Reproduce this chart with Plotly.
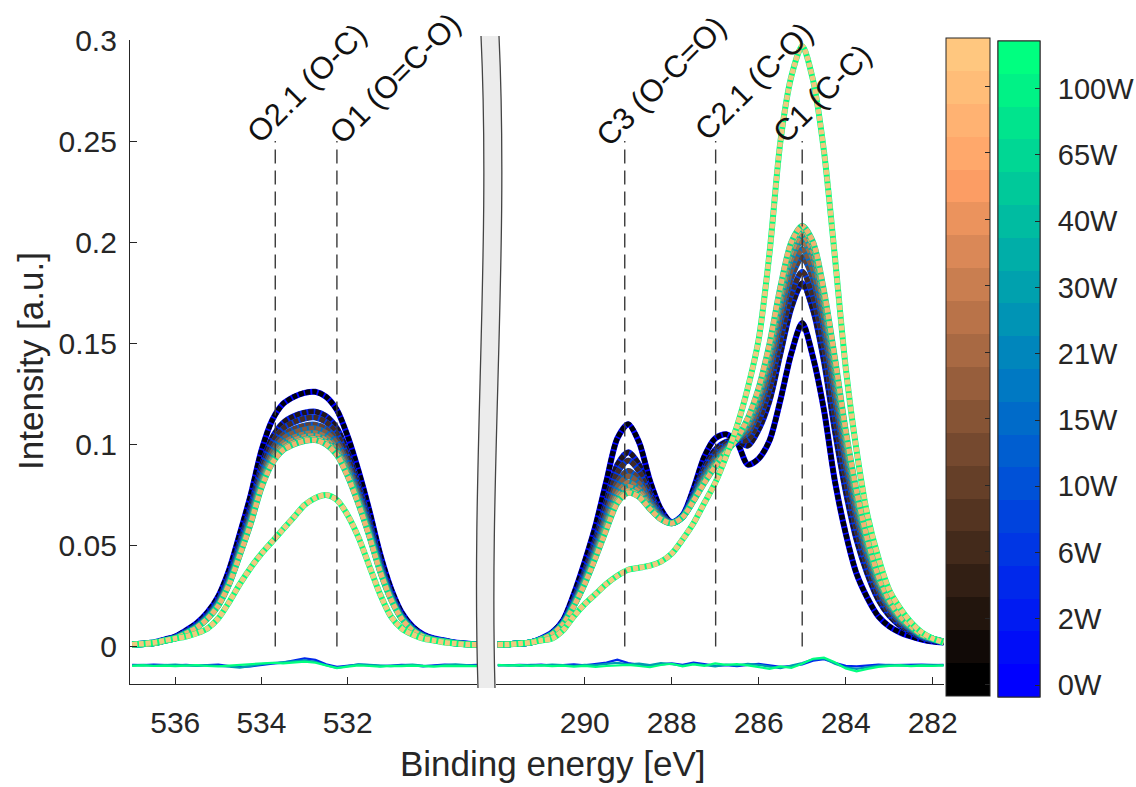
import plotly.graph_objects as go

# ---------------- data ----------------
power_labels = ["0W", "2W", "6W", "10W", "15W", "21W", "30W", "40W", "65W", "100W"]

energy_O = [537.0, 536.75, 536.5, 536.25, 536.0, 535.75, 535.5, 535.25, 535.0, 534.75,
            534.5, 534.25, 534.0, 533.75, 533.5, 533.25, 533.0, 532.75, 532.5, 532.25,
            532.0, 531.75, 531.5, 531.25, 531.0, 530.75, 530.5, 530.25, 530.0, 529.75,
            529.5, 529.25, 529.0]

energy_C = [292.0, 291.75, 291.5, 291.25, 291.0, 290.75, 290.5, 290.25, 290.0, 289.75,
            289.5, 289.25, 289.0, 288.75, 288.5, 288.25, 288.0, 287.75, 287.5, 287.25,
            287.0, 286.75, 286.5, 286.25, 286.0, 285.75, 285.5, 285.25, 285.0, 284.75,
            284.5, 284.25, 284.0, 283.75, 283.5, 283.25, 283.0, 282.75, 282.5, 282.25,
            282.0, 281.75]

O_0W = [0.001, 0.0015, 0.002, 0.0035, 0.005, 0.008, 0.0116, 0.017, 0.025, 0.038, 0.056, 0.075, 0.097, 0.112, 0.120, 0.1235, 0.1255, 0.126, 0.1235, 0.117, 0.104, 0.087, 0.0675, 0.046, 0.029, 0.017, 0.010, 0.006, 0.004, 0.003, 0.002, 0.0015, 0.001]
O_2W = [0.001, 0.0014, 0.0018, 0.0032, 0.0046, 0.0074, 0.0107, 0.0157, 0.0231, 0.0350, 0.0516, 0.0692, 0.0894, 0.1033, 0.1106, 0.1139, 0.1157, 0.1162, 0.1139, 0.1079, 0.0959, 0.0802, 0.0622, 0.0424, 0.0267, 0.0157, 0.0092, 0.0055, 0.0037, 0.0028, 0.0018, 0.0014, 0.0009]
O_6W = [0.001, 0.0013, 0.0018, 0.0031, 0.0045, 0.0072, 0.0104, 0.0153, 0.0225, 0.0342, 0.0503, 0.0674, 0.0872, 0.1007, 0.1079, 0.1110, 0.1128, 0.1133, 0.1110, 0.1052, 0.0935, 0.0782, 0.0607, 0.0414, 0.0261, 0.0153, 0.0090, 0.0054, 0.0036, 0.0027, 0.0018, 0.0013, 0.0009]
O_10W = [0.001, 0.0013, 0.0017, 0.0030, 0.0044, 0.0070, 0.0101, 0.0148, 0.0218, 0.0331, 0.0488, 0.0653, 0.0845, 0.0976, 0.1045, 0.1076, 0.1093, 0.1097, 0.1076, 0.1019, 0.0906, 0.0758, 0.0588, 0.0401, 0.0253, 0.0148, 0.0087, 0.0052, 0.0035, 0.0026, 0.0017, 0.0013, 0.0009]
O_15W = [0.001, 0.0013, 0.0017, 0.0030, 0.0043, 0.0068, 0.0099, 0.0146, 0.0214, 0.0325, 0.0479, 0.0642, 0.0830, 0.0959, 0.1027, 0.1057, 0.1074, 0.1079, 0.1057, 0.1002, 0.0890, 0.0745, 0.0578, 0.0394, 0.0248, 0.0146, 0.0086, 0.0051, 0.0034, 0.0026, 0.0017, 0.0013, 0.0009]
O_21W = [0.001, 0.0013, 0.0017, 0.0029, 0.0042, 0.0067, 0.0097, 0.0142, 0.0210, 0.0318, 0.0469, 0.0629, 0.0813, 0.0939, 0.1006, 0.1035, 0.1052, 0.1056, 0.1035, 0.0980, 0.0872, 0.0729, 0.0566, 0.0385, 0.0243, 0.0142, 0.0084, 0.0050, 0.0034, 0.0025, 0.0017, 0.0013, 0.0008]
O_30W = [0.001, 0.0012, 0.0017, 0.0029, 0.0041, 0.0066, 0.0096, 0.0141, 0.0207, 0.0314, 0.0463, 0.0620, 0.0802, 0.0926, 0.0992, 0.1021, 0.1038, 0.1042, 0.1021, 0.0968, 0.0860, 0.0719, 0.0558, 0.0380, 0.0240, 0.0141, 0.0083, 0.0050, 0.0033, 0.0025, 0.0017, 0.0012, 0.0008]
O_40W = [0.001, 0.0012, 0.0016, 0.0029, 0.0041, 0.0065, 0.0095, 0.0139, 0.0204, 0.0310, 0.0457, 0.0612, 0.0792, 0.0914, 0.0979, 0.1008, 0.1024, 0.1028, 0.1008, 0.0955, 0.0849, 0.0710, 0.0551, 0.0375, 0.0237, 0.0139, 0.0082, 0.0049, 0.0033, 0.0024, 0.0016, 0.0012, 0.0008]
O_65W = [0.001, 0.0012, 0.0016, 0.0028, 0.0040, 0.0065, 0.0094, 0.0138, 0.0203, 0.0308, 0.0454, 0.0608, 0.0786, 0.0907, 0.0972, 0.1000, 0.1017, 0.1021, 0.1000, 0.0948, 0.0842, 0.0705, 0.0547, 0.0373, 0.0235, 0.0138, 0.0081, 0.0049, 0.0032, 0.0024, 0.0016, 0.0012, 0.0008]
O_100W = [0.001, 0.0015, 0.002, 0.003, 0.004, 0.005, 0.0066, 0.009, 0.014, 0.022, 0.031, 0.039, 0.046, 0.052, 0.058, 0.064, 0.070, 0.0735, 0.075, 0.0725, 0.065, 0.054, 0.040, 0.026, 0.015, 0.009, 0.006, 0.004, 0.003, 0.002, 0.0015, 0.001, 0.001]

C_0W = [0.001, 0.0012, 0.0015, 0.002, 0.004, 0.007, 0.013, 0.026, 0.042, 0.060, 0.082, 0.103, 0.110, 0.101, 0.082, 0.068, 0.0615, 0.065, 0.078, 0.094, 0.103, 0.105, 0.101, 0.090, 0.093, 0.102, 0.122, 0.145, 0.160, 0.143, 0.117, 0.082, 0.056, 0.036, 0.024, 0.015, 0.010, 0.007, 0.005, 0.0035, 0.0025, 0.002]
C_2W = [0.001, 0.0012, 0.0015, 0.002, 0.0038, 0.0066, 0.0122, 0.0235, 0.0375, 0.0534, 0.0722, 0.0899, 0.0961, 0.0899, 0.0763, 0.0659, 0.0613, 0.0646, 0.0755, 0.0887, 0.0973, 0.1013, 0.1018, 0.0994, 0.1074, 0.1217, 0.1450, 0.1676, 0.1797, 0.1664, 0.1412, 0.1070, 0.0769, 0.0528, 0.0359, 0.0232, 0.0153, 0.0103, 0.0071, 0.0045, 0.0031, 0.0022]
C_6W = [0.001, 0.0012, 0.0015, 0.002, 0.0037, 0.0065, 0.0119, 0.0228, 0.0362, 0.0515, 0.0693, 0.0860, 0.0920, 0.0867, 0.0746, 0.0653, 0.0612, 0.0645, 0.0748, 0.0871, 0.0956, 0.1002, 0.1021, 0.1022, 0.1116, 0.1274, 0.1517, 0.1742, 0.1854, 0.1732, 0.1483, 0.1143, 0.0830, 0.0577, 0.0394, 0.0256, 0.0169, 0.0112, 0.0077, 0.0048, 0.0033, 0.0023]
C_10W = [0.001, 0.0012, 0.0015, 0.002, 0.0037, 0.0063, 0.0116, 0.0219, 0.0345, 0.0491, 0.0657, 0.0812, 0.0869, 0.0826, 0.0725, 0.0646, 0.0612, 0.0643, 0.0739, 0.0852, 0.0935, 0.0989, 0.1024, 0.1056, 0.1168, 0.1346, 0.1601, 0.1824, 0.1926, 0.1818, 0.1571, 0.1235, 0.0907, 0.0639, 0.0437, 0.0286, 0.0188, 0.0124, 0.0084, 0.0052, 0.0035, 0.0023]
C_15W = [0.001, 0.0012, 0.0015, 0.002, 0.0036, 0.0062, 0.0115, 0.0214, 0.0336, 0.0478, 0.0638, 0.0787, 0.0842, 0.0805, 0.0714, 0.0642, 0.0611, 0.0642, 0.0734, 0.0841, 0.0924, 0.0982, 0.1025, 0.1075, 0.1196, 0.1385, 0.1646, 0.1868, 0.1965, 0.1863, 0.1618, 0.1284, 0.0948, 0.0672, 0.0460, 0.0302, 0.0199, 0.0131, 0.0088, 0.0054, 0.0036, 0.0024]
C_21W = [0.001, 0.0012, 0.0015, 0.002, 0.0036, 0.0061, 0.0113, 0.0209, 0.0326, 0.0464, 0.0616, 0.0758, 0.0811, 0.0780, 0.0701, 0.0637, 0.0611, 0.0641, 0.0729, 0.0829, 0.0911, 0.0973, 0.1027, 0.1096, 0.1228, 0.1428, 0.1696, 0.1918, 0.2008, 0.1915, 0.1672, 0.1339, 0.0994, 0.0709, 0.0487, 0.0320, 0.0211, 0.0138, 0.0093, 0.0056, 0.0038, 0.0024]
C_30W = [0.001, 0.0012, 0.0015, 0.002, 0.0035, 0.0061, 0.0112, 0.0205, 0.0320, 0.0454, 0.0602, 0.0739, 0.0791, 0.0764, 0.0693, 0.0634, 0.0610, 0.0641, 0.0725, 0.0822, 0.0903, 0.0968, 0.1028, 0.1109, 0.1249, 0.1457, 0.1730, 0.1951, 0.2037, 0.1949, 0.1707, 0.1375, 0.1024, 0.0733, 0.0504, 0.0332, 0.0218, 0.0143, 0.0096, 0.0058, 0.0039, 0.0025]
C_40W = [0.001, 0.0012, 0.0015, 0.002, 0.0035, 0.0060, 0.0111, 0.0202, 0.0313, 0.0445, 0.0587, 0.0720, 0.0770, 0.0748, 0.0684, 0.0631, 0.0610, 0.0640, 0.0722, 0.0814, 0.0894, 0.0963, 0.1029, 0.1123, 0.1270, 0.1486, 0.1763, 0.1984, 0.2066, 0.1983, 0.1742, 0.1412, 0.1055, 0.0758, 0.0521, 0.0344, 0.0226, 0.0148, 0.0099, 0.0059, 0.0040, 0.0025]
C_65W = [0.001, 0.0012, 0.0015, 0.002, 0.0035, 0.006, 0.011, 0.020, 0.031, 0.044, 0.058, 0.071, 0.076, 0.074, 0.068, 0.063, 0.061, 0.064, 0.072, 0.081, 0.089, 0.096, 0.103, 0.113, 0.128, 0.150, 0.178, 0.200, 0.208, 0.200, 0.176, 0.143, 0.107, 0.077, 0.053, 0.035, 0.023, 0.015, 0.010, 0.006, 0.004, 0.0025]
C_100W = [0.001, 0.001, 0.0015, 0.002, 0.003, 0.004, 0.008, 0.015, 0.021, 0.026, 0.031, 0.035, 0.038, 0.039, 0.040, 0.042, 0.046, 0.053, 0.061, 0.071, 0.081, 0.094, 0.109, 0.128, 0.152, 0.195, 0.250, 0.282, 0.297, 0.280, 0.245, 0.193, 0.138, 0.097, 0.065, 0.044, 0.028, 0.019, 0.012, 0.007, 0.004, 0.002]

# residuals (fit - data), plotted offset below zero
res_O_0W = [-0.0090, -0.0092, -0.0089, -0.0091, -0.0093, -0.0090, -0.0094, -0.0091, -0.0089, -0.0096, -0.0101, -0.0098, -0.0090, -0.0084, -0.0079, -0.0070, -0.0058, -0.0066, -0.0088, -0.0100, -0.0093, -0.0089, -0.0092, -0.0097, -0.0094, -0.0090, -0.0092, -0.0098, -0.0093, -0.0089, -0.0091, -0.0093, -0.0090]
res_O_40W = [-0.0093, -0.0090, -0.0094, -0.0092, -0.0089, -0.0093, -0.0096, -0.0092, -0.0094, -0.0099, -0.0104, -0.0095, -0.0087, -0.0082, -0.0077, -0.0072, -0.0068, -0.0075, -0.0092, -0.0105, -0.0096, -0.0088, -0.0090, -0.0094, -0.0097, -0.0093, -0.0089, -0.0094, -0.0096, -0.0091, -0.0088, -0.0092, -0.0094]
res_O_100W = [-0.0095, -0.0093, -0.0096, -0.0094, -0.0097, -0.0095, -0.0092, -0.0096, -0.0098, -0.0094, -0.0091, -0.0088, -0.0084, -0.0080, -0.0083, -0.0079, -0.0074, -0.0080, -0.0094, -0.0106, -0.0099, -0.0093, -0.0096, -0.0099, -0.0095, -0.0097, -0.0094, -0.0097, -0.0099, -0.0095, -0.0096, -0.0094, -0.0097]
res_C_0W = [-0.0091, -0.0093, -0.0090, -0.0092, -0.0089, -0.0094, -0.0091, -0.0088, -0.0093, -0.0086, -0.0079, -0.0065, -0.0082, -0.0090, -0.0094, -0.0088, -0.0083, -0.0090, -0.0079, -0.0087, -0.0095, -0.0092, -0.0097, -0.0090, -0.0086, -0.0093, -0.0100, -0.0096, -0.0088, -0.0070, -0.0062, -0.0080, -0.0095, -0.0098, -0.0093, -0.0089, -0.0092, -0.0090, -0.0091, -0.0089, -0.0092, -0.0090]
res_C_40W = [-0.0094, -0.0091, -0.0095, -0.0090, -0.0093, -0.0089, -0.0092, -0.0095, -0.0090, -0.0092, -0.0085, -0.0080, -0.0088, -0.0084, -0.0091, -0.0082, -0.0087, -0.0094, -0.0085, -0.0092, -0.0098, -0.0089, -0.0093, -0.0086, -0.0090, -0.0099, -0.0107, -0.0094, -0.0081, -0.0063, -0.0058, -0.0085, -0.0103, -0.0110, -0.0101, -0.0094, -0.0090, -0.0093, -0.0095, -0.0092, -0.0090, -0.0093]
res_C_100W = [-0.0090, -0.0094, -0.0092, -0.0096, -0.0093, -0.0097, -0.0094, -0.0099, -0.0095, -0.0100, -0.0096, -0.0093, -0.0090, -0.0096, -0.0101, -0.0091, -0.0085, -0.0098, -0.0088, -0.0095, -0.0083, -0.0090, -0.0087, -0.0093, -0.0103, -0.0110, -0.0098, -0.0105, -0.0085, -0.0060, -0.0055, -0.0078, -0.0108, -0.0122, -0.0110, -0.0100, -0.0096, -0.0093, -0.0097, -0.0094, -0.0096, -0.0093]

O_series = [O_0W, O_2W, O_6W, O_10W, O_15W, O_21W, O_30W, O_40W, O_65W, O_100W]
C_series = [C_0W, C_2W, C_6W, C_10W, C_15W, C_21W, C_30W, C_40W, C_65W, C_100W]
res_O = [res_O_0W, res_O_40W, res_O_100W]
res_C = [res_C_0W, res_C_40W, res_C_100W]
res_levels = [0.15, 0.6, 1.0]

O_peak_pos = [533.68, 532.25]
O_peak_labels = ["O2.1 (O-C)", "O1 (O=C-O)"]
C_peak_pos = [289.08, 286.99, 285.0]
C_peak_labels = ["C3 (O-C=O)", "C2.1 (C-O)", "C1 (C-C)"]

y_tickvals = [0, 0.05, 0.1, 0.15, 0.2, 0.25, 0.3]
y_ticktext = ["0", "0.05", "0.1", "0.15", "0.2", "0.25", "0.3"]
xO_tickvals = [536, 534, 532]
xC_tickvals = [290, 288, 286, 284, 282]

# ---------------- styling helpers ----------------
W, H = 1136, 787
FONT = "Liberation Sans, Arial, Helvetica, sans-serif"
AX = "#262626"


def winter(t):
    return "rgb(0,%d,%d)" % (round(255 * t), round(255 * (1 - 0.5 * t)))


def copper(t):
    return "rgb(%d,%d,%d)" % (round(255 * min(1.0, 1.25 * t)), round(255 * 0.7812 * t), round(255 * 0.4975 * t))


def px(xp, yp):
    return xp / W, 1 - yp / H


n = len(power_labels)
fig = go.Figure()

# spectra: winter-coloured data lines with copper "square marker" fit overlays
for k in range(n):
    t = k / (n - 1)
    for xs, ys, xa, ya in [(energy_O, O_series[k], "x", "y"), (energy_C, C_series[k], "x2", "y2")]:
        fig.add_trace(go.Scatter(x=xs, y=ys, xaxis=xa, yaxis=ya, mode="lines",
                                 line=dict(color=winter(t), width=6, shape="spline", smoothing=0.8),
                                 showlegend=False, hoverinfo="skip"))
        fig.add_trace(go.Scatter(x=xs, y=ys, xaxis=xa, yaxis=ya, mode="lines",
                                 line=dict(color=copper(t), width=5.2, shape="spline", smoothing=0.8,
                                           dash="5px,1.8px"),
                                 opacity=0.95, showlegend=False, hoverinfo="skip"))

# residual lines
for r, t in zip(range(len(res_O)), res_levels):
    fig.add_trace(go.Scatter(x=energy_O, y=res_O[r], xaxis="x", yaxis="y", mode="lines",
                             line=dict(color=winter(t), width=2.2), showlegend=False, hoverinfo="skip"))
    fig.add_trace(go.Scatter(x=energy_C, y=res_C[r], xaxis="x2", yaxis="y2", mode="lines",
                             line=dict(color=winter(t), width=2.2), showlegend=False, hoverinfo="skip"))

# ---------------- colour bars ----------------
NSTEP = 20


def discrete_scale(fn):
    sc = []
    for i in range(NSTEP):
        c = fn(i / (NSTEP - 1))
        sc.append([i / NSTEP, c])
        sc.append([(i + 1) / NSTEP, c])
    return sc


cb_tickvals = [0.35 + 2.02 * i for i in range(n)]
bar_top, bar_len = 38, 658

fig.add_trace(go.Scatter(x=[None], y=[None], mode="markers", showlegend=False, hoverinfo="skip",
                         marker=dict(color=[0], cmin=0, cmax=NSTEP, colorscale=discrete_scale(copper),
                                     showscale=True,
                                     colorbar=dict(x=946 / W, xanchor="left", xpad=0,
                                                   y=1 - bar_top / H, yanchor="top", ypad=0,
                                                   len=bar_len, lenmode="pixels",
                                                   thickness=44, thicknessmode="pixels",
                                                   outlinewidth=1, outlinecolor=AX,
                                                   tickvals=cb_tickvals, ticks="inside", ticklen=5,
                                                   tickcolor=AX, showticklabels=False))))
for mode in ["labels", "ticks"]:
    cb = dict(x=998 / W, xanchor="left", xpad=0, y=1 - 40.5 / H, yanchor="top", ypad=0,
              len=656, lenmode="pixels", thickness=42, thicknessmode="pixels",
              outlinewidth=1, outlinecolor=AX, tickvals=cb_tickvals, ticktext=power_labels)
    if mode == "labels":
        cb.update(ticks="outside", ticklen=12, tickcolor="rgba(0,0,0,0)",
                  tickfont=dict(family=FONT, size=29, color=AX))
    else:
        cb.update(ticks="inside", ticklen=5, tickcolor=AX, showticklabels=False)
    fig.add_trace(go.Scatter(x=[None], y=[None], mode="markers", showlegend=False, hoverinfo="skip",
                             marker=dict(color=[0], cmin=0, cmax=NSTEP, colorscale=discrete_scale(winter),
                                         showscale=True, colorbar=cb)))

# ---------------- axes ----------------
ydom = [1 - 684 / H, 1 - 40 / H]
common_x = dict(ticks="inside", ticklen=7, tickwidth=1.2, tickcolor=AX, showline=True,
                linecolor=AX, linewidth=1.3, showgrid=False, zeroline=False, automargin=False,
                tickfont=dict(family=FONT, size=30, color=AX), ticklabelstandoff=12)
fig.update_layout(
    width=W, height=H, margin=dict(l=0, r=0, t=0, b=0, autoexpand=False),
    paper_bgcolor="white", plot_bgcolor="rgba(0,0,0,0)",
    xaxis=dict(domain=[130 / W, 477 / W], range=[537.05, 529.0], tickvals=xO_tickvals,
               anchor="y", **common_x),
    xaxis2=dict(domain=[496 / W, 944 / W], range=[292.04, 281.74], tickvals=xC_tickvals,
                anchor="y2", **common_x),
    yaxis=dict(domain=ydom, range=[-0.0185, 0.3], tickvals=y_tickvals, ticktext=y_ticktext,
               ticks="inside", ticklen=7, tickwidth=1.2, tickcolor=AX, showline=True,
               linecolor=AX, linewidth=1.3, showgrid=False, zeroline=False, anchor="x",
               automargin=False,
               tickfont=dict(family=FONT, size=30, color=AX), ticklabelstandoff=6),
    yaxis2=dict(domain=ydom, range=[-0.0185, 0.3], visible=False, anchor="x2"),
)

# ---------------- peak marker lines and labels ----------------
shapes = []
annotations = []
label_shift_O = [(31, 58), (58, 63)]
label_shift_C = [(36, 60), (38, 60), (20, 48)]
for pos_list, lab_list, shifts, xr in [(O_peak_pos, O_peak_labels, label_shift_O, "x"),
                                       (C_peak_pos, C_peak_labels, label_shift_C, "x2")]:
    for pos, lab, (dx, dy) in zip(pos_list, lab_list, shifts):
        shapes.append(dict(type="line", xref=xr, yref="y", x0=pos, x1=pos, y0=0, y1=0.25,
                           line=dict(color="#3a3a3a", width=1.4, dash="14px,7px"), layer="above"))
        annotations.append(dict(x=pos, y=0.25, xref=xr, yref="y", text=lab, showarrow=False,
                                textangle=-45, xanchor="center", yanchor="middle",
                                xshift=dx, yshift=dy,
                                font=dict(family=FONT, size=31, color="#111111")))

# axis break band (curved)
lt, lc1, lc2, lb = px(481, 36), px(491, 250), px(471, 470), px(478, 688)
rt, rc1, rc2, rb = px(499, 36), px(509, 250), px(489, 470), px(495, 688)


def pt(p):
    return "%.5f,%.5f" % p


band = ("M %s C %s %s %s L %s C %s %s %s Z" %
        (pt(lt), pt(lc1), pt(lc2), pt(lb), pt(rb), pt(rc2), pt(rc1), pt(rt)))
shapes.append(dict(type="path", xref="paper", yref="paper", path=band,
                   fillcolor="#ECECEC", line=dict(width=0), layer="above"))
for a, b, c, d in [(lt, lc1, lc2, lb), (rt, rc1, rc2, rb)]:
    shapes.append(dict(type="path", xref="paper", yref="paper",
                       path="M %s C %s %s %s" % (pt(a), pt(b), pt(c), pt(d)),
                       fillcolor="rgba(0,0,0,0)", line=dict(color="#444444", width=1.3),
                       layer="above"))

# axis titles
annotations.append(dict(x=552 / W, y=1 - 763 / H, xref="paper", yref="paper",
                        text="Binding energy [eV]", showarrow=False, xanchor="center", yanchor="middle",
                        font=dict(family=FONT, size=35, color=AX)))
annotations.append(dict(x=30 / W, y=1 - 361 / H, xref="paper", yref="paper",
                        text="Intensity [a.u.]", showarrow=False, textangle=-90,
                        xanchor="center", yanchor="middle",
                        font=dict(family=FONT, size=35, color=AX)))

fig.update_layout(shapes=shapes, annotations=annotations)
fig.write_html("out.html")
